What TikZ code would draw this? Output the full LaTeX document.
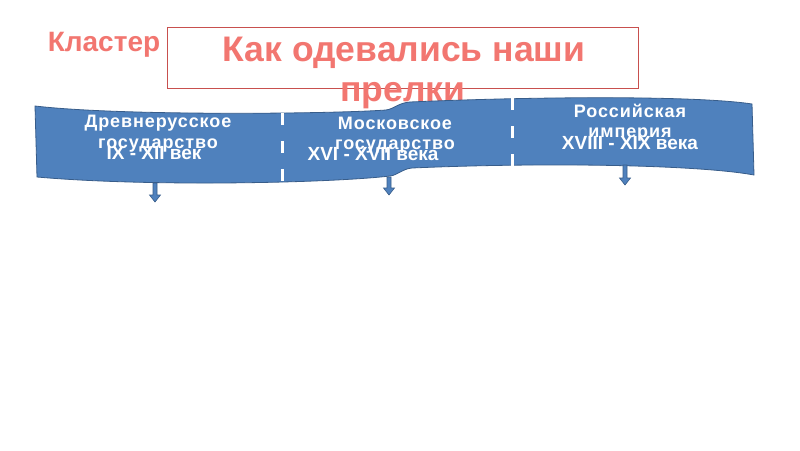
\documentclass[tikz,border=0pt]{standalone}
\usepackage{fontspec}
\setmainfont{Liberation Sans}
\definecolor{salmon}{RGB}{242,118,112}
\definecolor{boxred}{RGB}{200,80,78}
\definecolor{bannerblue}{RGB}{79,129,189}
\definecolor{bannerdark}{RGB}{56,93,138}
\begin{document}
\begin{tikzpicture}[x=1pt,y=-1pt,
  salmontext/.style={text=salmon,font=\bfseries,inner sep=0pt},
  whitetext/.style={text=white,font=\bfseries,inner sep=0pt},
  headtext/.style={whitetext,font=\bfseries\fontsize{18}{18}\selectfont\addfontfeature{LetterSpace=5}},
  periodtext/.style={whitetext,font=\bfseries\fontsize{19}{19}\selectfont},
  divider/.style={draw=white,line width=3pt,dash pattern=on 12pt off 16pt},
  blockarrow/.style={fill=bannerblue,draw=bannerdark,line width=0.6pt}]
\useasboundingbox (0,0) rectangle (800,450);
\fill[white] (0,0) rectangle (800,450);
% title box
\node[draw=boxred,line width=0.8pt,fill=white,minimum width=471pt,minimum height=61pt,inner sep=0pt] (titlebox) at (402.5,57.5) {};
\node[salmontext,font=\bfseries\fontsize{35.5}{35.5}\selectfont] (titleA) at (404,53) {Как одевались наши};
\node[salmontext,font=\bfseries\fontsize{35.5}{35.5}\selectfont] (titleB) at (403,96) {прелки};
\node[salmontext,font=\bfseries\fontsize{28}{28}\selectfont] (cluster) at (104,45) {Кластер};
% banner
\draw[fill=bannerblue,draw=bannerdark,line width=0.8pt]
  (35,106) .. controls (120,116) and (330,114) .. (386,110)
  .. controls (394,109) and (398,103) .. (410,102)
  .. controls (550,96) and (700,96) .. (752,104)
  -- (754,175)
  .. controls (700,165) and (550,162) .. (412,168)
  .. controls (402,169) and (398,175) .. (390,176)
  .. controls (330,183) and (150,187) .. (37,177) -- cycle;
% dividers
\coordinate (d1t) at (282,113); \coordinate (d1b) at (282,184);
\coordinate (d2t) at (512,98); \coordinate (d2b) at (512,170);
\draw[divider] (d1t) -- (d1b);
\draw[divider] (d2t) -- (d2b);
% arrows
\foreach \x/\t/\b in {155/183/202, 389/177/195, 625/165/185}{
  \draw[blockarrow] (\x-2,\t) -- (\x-2,\b-7) -- (\x-5.5,\b-7) -- (\x,\b) -- (\x+5.5,\b-7) -- (\x+2,\b-7) -- (\x+2,\t) -- cycle;
}
% texts
\node[headtext] (s1a) at (158,123) {Древнерусское};
\node[headtext] (s1b) at (158,146) {государство};
\node[periodtext] (s1c) at (154,153) {IX - XII век};
\node[headtext] (s2a) at (395,123) {Московское};
\node[headtext] (s2b) at (395,147) {государство};
\node[periodtext] (s2c) at (373,154) {XVI - XVII века};
\node[headtext] (s3a) at (630,111) {Российская};
\node[headtext] (s3b) at (630,135) {империя};
\node[periodtext] (s3c) at (630,143) {XVIII - XIX века};
\end{tikzpicture}
\end{document}
